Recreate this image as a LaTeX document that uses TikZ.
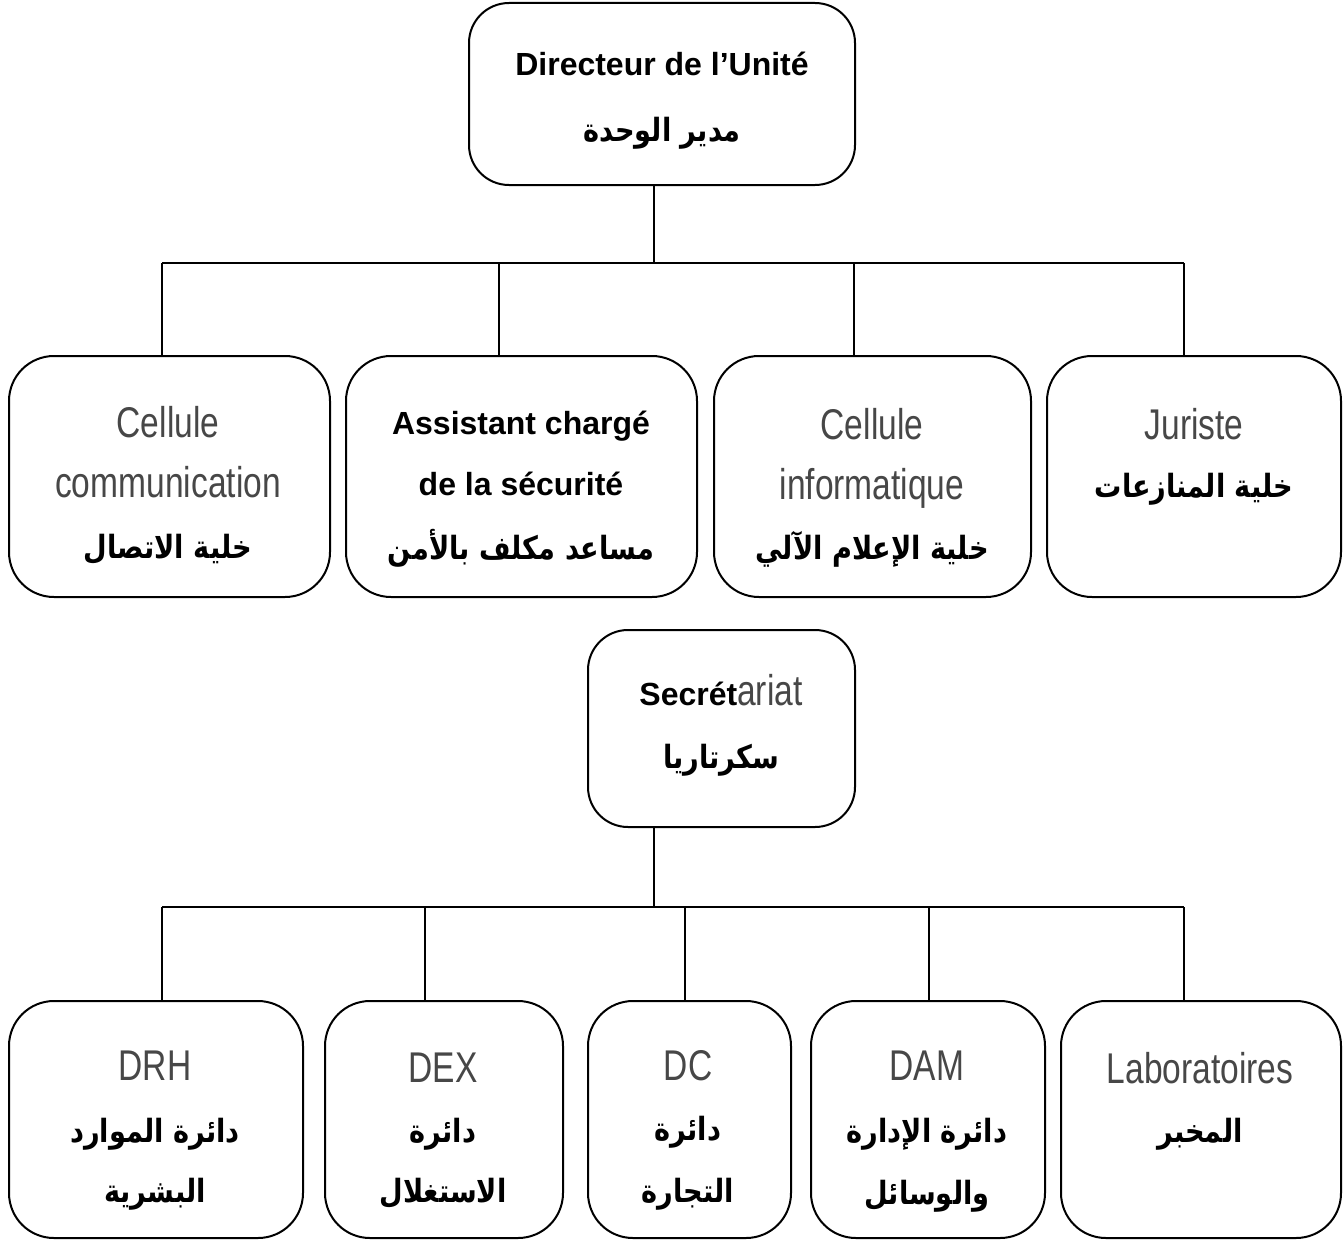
\documentclass[tikz,border=0pt]{standalone}
\usepackage{fontspec}
\setmainfont{Liberation Sans}
\newfontfamily\lightfont[FakeStretch=0.78]{Liberation Sans}
\newfontfamily\arfont[Script=Arabic,FakeStretch=0.85]{DejaVu Sans}
\TeXXeTstate=1
\newcommand{\ar}[1]{\beginR #1\endR}
\begin{document}
\begin{tikzpicture}[x=1pt,y=-1pt,
  unitbox/.style={draw, line width=2pt, rounded corners=45pt, inner sep=0pt, anchor=north west},
  link/.style={line width=1.5pt},
  latb/.style={anchor=base, inner sep=0pt, font=\fontsize{32}{38}\selectfont\bfseries},
  latl/.style={anchor=base, inner sep=0pt, text=black!72, font=\fontsize{43}{50}\selectfont\lightfont},
  arb/.style={anchor=base, inner sep=0pt, font=\fontsize{32}{38}\selectfont\arfont\bfseries}]
\useasboundingbox (0,0) rectangle (1343,1239);

% ---- director ----
\node[unitbox, minimum width=386pt, minimum height=182pt, rounded corners=40pt] (dir) at (468,2) {};
\node[latb] (dirA) at (662,75) {Directeur de l’Unité};
\node[arb]  (dirB) at (662,141) {\ar{مدير الوحدة}};

% ---- first level ----
\node[unitbox, minimum width=321pt, minimum height=241pt] (com) at (8,355) {};
\node[unitbox, minimum width=351pt, minimum height=241pt] (sec) at (345,355) {};
\node[unitbox, minimum width=317pt, minimum height=241pt] (inf) at (713,355) {};
\node[unitbox, minimum width=294pt, minimum height=241pt] (jur) at (1046,355) {};

\node[latl] (comA) at (168,437) {Cellule};
\node[latl] (comB) at (168,497) {communication};
\node[arb]  (comC) at (168,558) {\ar{خلية الاتصال}};

\node[latb] (secA) at (521,434) {Assistant chargé};
\node[latb] (secB) at (521,495) {de la sécurité};
\node[arb]  (secC) at (521,559) {\ar{مساعد مكلف بالأمن}};

\node[latl] (infA) at (872,439) {Cellule};
\node[latl] (infB) at (872,499) {informatique};
\node[arb]  (infC) at (872,559) {\ar{خلية الإعلام الآلي}};

\node[latl] (jurA) at (1194,439) {Juriste};
\node[arb]  (jurB) at (1194,497) {\ar{خلية المنازعات}};

% ---- secretariat ----
\node[unitbox, minimum width=267pt, minimum height=197pt, rounded corners=40pt] (sct) at (587,629) {};
\node[anchor=base, inner sep=0pt] (sctA) at (721,705)
  {{\fontsize{32}{38}\selectfont\bfseries Secrét}{\color{black!72}\fontsize{43}{50}\selectfont\lightfont ariat}};
\node[arb] (sctB) at (721,768) {\ar{سكرتاريا}};

% ---- departments ----
\node[unitbox, minimum width=294pt, minimum height=237pt] (drh) at (8,1000) {};
\node[unitbox, minimum width=238pt, minimum height=237pt] (dex) at (324,1000) {};
\node[unitbox, minimum width=203pt, minimum height=237pt] (dc)  at (587,1000) {};
\node[unitbox, minimum width=234pt, minimum height=237pt] (dam) at (810,1000) {};
\node[unitbox, minimum width=280pt, minimum height=237pt] (lab) at (1060,1000) {};

\node[latl] (drhA) at (155,1080) {DRH};
\node[arb]  (drhB) at (155,1142) {\ar{دائرة الموارد}};
\node[arb]  (drhC) at (155,1202) {\ar{البشرية}};

\node[latl] (dexA) at (443,1082) {DEX};
\node[arb]  (dexB) at (443,1142) {\ar{دائرة}};
\node[arb]  (dexC) at (443,1202) {\ar{الاستغلال}};

\node[latl] (dcA) at (688,1080) {DC};
\node[arb]  (dcB) at (688,1140) {\ar{دائرة}};
\node[arb]  (dcC) at (688,1202) {\ar{التجارة}};

\node[latl] (damA) at (927,1080) {DAM};
\node[arb]  (damB) at (927,1142) {\ar{دائرة الإدارة}};
\node[arb]  (damC) at (927,1204) {\ar{والوسائل}};

\node[latl] (labA) at (1200,1083) {Laboratoires};
\node[arb]  (labB) at (1200,1142) {\ar{المخبر}};

% ---- connectors, upper tree ----
\coordinate (bus1) at (654,263);
\coordinate (u1) at (162,263);
\coordinate (u2) at (499,263);
\coordinate (u3) at (854,263);
\coordinate (u4) at (1184,263);
\draw[link] (bus1 |- dir.south) -- (bus1);
\draw[link] (u1) -- (u4);
\draw[link] (u1) -- (u1 |- com.north);
\draw[link] (u2) -- (u2 |- sec.north);
\draw[link] (u3) -- (u3 |- inf.north);
\draw[link] (u4) -- (u4 |- jur.north);

% ---- connectors, lower tree ----
\coordinate (bus2) at (654,907);
\coordinate (w1) at (162,907);
\coordinate (w2) at (425,907);
\coordinate (w3) at (685,907);
\coordinate (w4) at (929,907);
\coordinate (w5) at (1184,907);
\draw[link] (bus2 |- sct.south) -- (bus2);
\draw[link] (w1) -- (w5);
\draw[link] (w1) -- (w1 |- drh.north);
\draw[link] (w2) -- (w2 |- dex.north);
\draw[link] (w3) -- (w3 |- dc.north);
\draw[link] (w4) -- (w4 |- dam.north);
\draw[link] (w5) -- (w5 |- lab.north);
\end{tikzpicture}
\end{document}
